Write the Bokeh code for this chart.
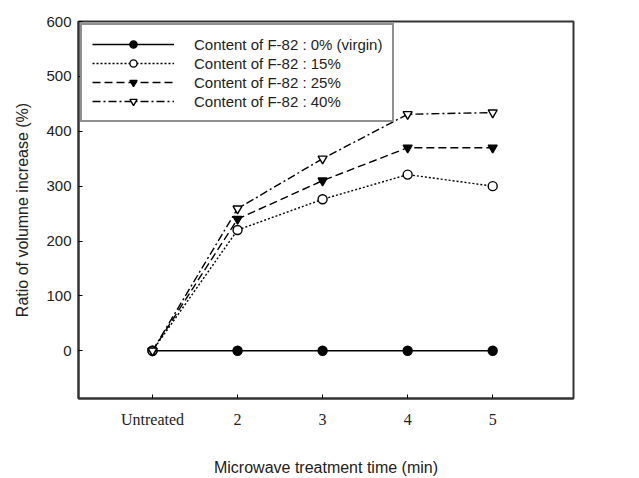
from bokeh.plotting import figure
from bokeh.models import FixedTicker, Legend, LegendItem, Range1d
from bokeh.embed import file_html
from bokeh.resources import INLINE

times = [1, 2, 3, 4, 5]
tick_labels = ["Untreated", "2", "3", "4", "5"]
s0 = [0, 0, 0, 0, 0]
s15 = [0, 220, 276, 321, 300]
s25 = [0, 240, 310, 370, 370]
s40 = [0, 259, 350, 431, 434]
names = ["Content of F-82 : 0% (virgin)", "Content of F-82 : 15%",
         "Content of F-82 : 25%", "Content of F-82 : 40%"]

p = figure(width=639, height=478, output_backend="svg", toolbar_location=None,
           x_range=Range1d(0.13, 5.95), y_range=Range1d(-87, 600),
           min_border_left=78, min_border_right=66, min_border_top=21, min_border_bottom=80)
p.xgrid.visible = False
p.ygrid.visible = False
p.outline_line_color = "#333333"
p.outline_line_width = 2

styles = [
    (s0, "solid", "circle", "black"),
    (s15, "2 2", "circle", "white"),
    (s25, "8 4", "inverted_triangle", "black"),
    (s40, "8 3 2 3", "inverted_triangle", "white"),
]
items = []
for (ys, dash, mk, fill), name in zip(styles, names):
    r1 = p.line(times, ys, line_color="black", line_width=1.4, line_dash=dash)
    r2 = p.scatter(times, ys, marker=mk, size=9, line_color="black", line_width=1.4, fill_color=fill)
    items.append(LegendItem(label=name, renderers=[r1, r2]))

leg = Legend(items=items, location="top_left", margin=2, padding=10,
             glyph_width=82, glyph_height=18, label_height=18, spacing=1,
             label_standoff=20, label_text_font="Liberation Sans", label_text_font_size="15px",
             label_text_color="#222222",
             border_line_color="#222222", border_line_width=2, background_fill_alpha=1)
p.add_layout(leg, "center")

for ax in (p.xaxis[0], p.yaxis[0]):
    ax.axis_line_color = "#333333"
    ax.axis_line_width = 2
    ax.major_tick_in = 4
    ax.major_tick_out = 0
    ax.minor_tick_line_color = None
    ax.major_label_text_color = "#222222"
    ax.axis_label_text_color = "#222222"
    ax.axis_label_text_font = "Liberation Sans"
    ax.axis_label_text_font_style = "normal"
    ax.axis_label_text_font_size = "16px"

p.xaxis.ticker = FixedTicker(ticks=times)
p.xaxis.major_label_overrides = {t: lab for t, lab in zip(times, tick_labels)}
p.xaxis.major_label_text_font = "Liberation Serif"
p.xaxis.major_label_text_font_size = "16px"
p.xaxis.major_label_standoff = 12
p.xaxis.axis_label = "Microwave treatment time (min)"
p.xaxis.axis_label_standoff = 28

p.yaxis.ticker = FixedTicker(ticks=[0, 100, 200, 300, 400, 500, 600])
p.yaxis.major_label_text_font = "Liberation Sans"
p.yaxis.major_label_text_font_size = "15px"
p.yaxis.major_label_standoff = 7
p.yaxis.axis_label = "Ratio of volumne increase (%)"
p.yaxis.axis_label_standoff = 12

open("out.html", "w").write(file_html(p, INLINE))
